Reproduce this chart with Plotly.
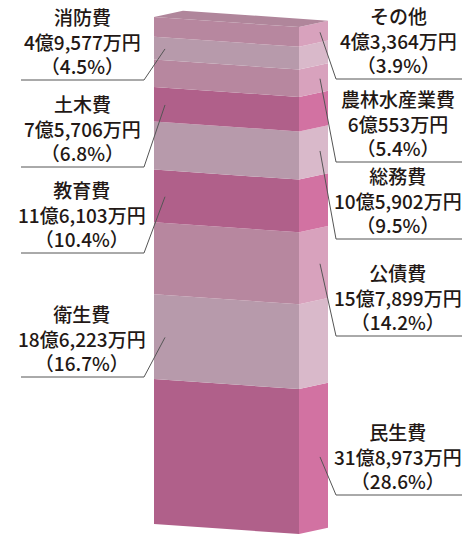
import plotly.graph_objects as go

# ---- data (bottom to top) ----
categories = ["民生費", "衛生費", "公債費", "教育費", "総務費", "土木費", "農林水産業費", "消防費", "その他"]
amounts = ["31億8,973万円", "18億6,223万円", "15億7,899万円", "11億6,103万円", "10億5,902万円",
           "7億5,706万円", "6億553万円", "4億9,577万円", "4億3,364万円"]
percents = [28.6, 16.7, 14.2, 10.4, 9.5, 6.8, 5.4, 4.5, 3.9]

# ---- styles ----
tone = ["dark", "light", "mauve", "dark", "light", "dark", "mauve", "light", "mauve"]
front_col = {"dark": "#b0608a", "light": "#b79aab", "mauve": "#b7879f"}
side_col = {"dark": "#d272a2", "light": "#d9b9ca", "mauve": "#d8a2bd"}
top_col = "#b0869b"
label_side = ["R", "L", "R", "L", "R", "L", "R", "L", "R"]
rule_y = [495, 377, 336, 253, 239, 167, 162, 80, 79]  # pixel y of label underline

W, H = 462, 536
PX_PER = 5.07
YMIN = -12 / PX_PER
YMAX = YMIN + H / PX_PER


def py2v(py):
    return YMIN + (H - py) / PX_PER


X0, X1, X2 = 154, 299, 328
S = 10 / PX_PER      # front face slope (drop to the right)
D = 6.3 / PX_PER     # depth rise
DX = X2 - X1

fig = go.Figure()
cum = 0.0
bounds = []
for p in percents:
    bounds.append((cum, cum + p))
    cum += p

for i, (a, b) in enumerate(bounds):
    fig.add_trace(go.Scatter(
        x=[X0, X1, X1, X0, X0], y=[a, a - S, b - S, b, a],
        fill="toself", fillcolor=front_col[tone[i]], mode="lines",
        line=dict(width=0), hoverinfo="skip", showlegend=False))
    fig.add_trace(go.Scatter(
        x=[X1, X2, X2, X1, X1], y=[a - S, a - S + D, b - S + D, b - S, a - S],
        fill="toself", fillcolor=side_col[tone[i]], mode="lines",
        line=dict(width=0), hoverinfo="skip", showlegend=False))

top = cum
fig.add_trace(go.Scatter(
    x=[X0, X1, X2, X0 + DX, X0], y=[top, top - S, top - S + D, top + D, top],
    fill="toself", fillcolor=top_col, mode="lines",
    line=dict(width=0), hoverinfo="skip", showlegend=False))

annotations = []
FONT = "Noto Sans CJK JP, sans-serif"
for i, (a, b) in enumerate(bounds):
    mid = (a + b) / 2
    ry = rule_y[i]
    if label_side[i] == "L":
        xin = 165
        yin = mid - S * (xin - X0) / (X1 - X0)
        xs = [21, 144, xin]
        ys = [py2v(ry), py2v(ry), yin]
        cx = 82
    else:
        xin = 320
        yin = mid - S + D * (xin - X1) / DX
        xs = [462, 336, xin]
        ys = [py2v(ry), py2v(ry), yin]
        cx = 398
    fig.add_trace(go.Scatter(x=xs, y=ys, mode="lines",
                             line=dict(color="#555555", width=1),
                             hoverinfo="skip", showlegend=False))
    annotations.append(dict(
        x=cx, y=py2v(ry + 1), xref="x", yref="y", xanchor="center", yanchor="bottom",
        text=f"{categories[i]}<br>{amounts[i]}<br>（{percents[i]}%）",
        showarrow=False, align="center",
        font=dict(family=FONT, size=19, color="#231815", weight=500)))

fig.update_layout(
    width=W, height=H, margin=dict(l=0, r=0, t=0, b=0),
    paper_bgcolor="white", plot_bgcolor="white",
    xaxis=dict(range=[0, W], visible=False, fixedrange=True),
    yaxis=dict(range=[YMIN, YMAX], visible=False, fixedrange=True),
    annotations=annotations, showlegend=False)

fig.write_html("out.html")
